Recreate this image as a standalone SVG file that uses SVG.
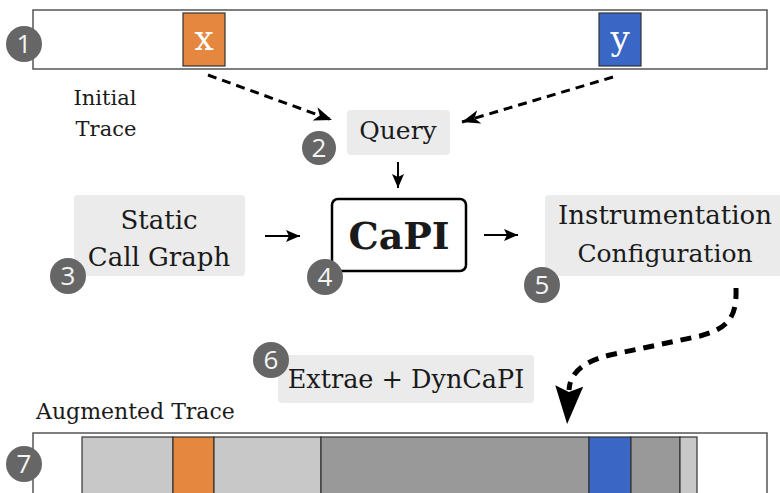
<svg xmlns="http://www.w3.org/2000/svg" width="780" height="493" viewBox="0 0 780 493">
<defs>
<style>
.trace{fill:#fff;stroke:#555;stroke-width:1.5}
.box{fill:#ebebeb}
.t{font-family:"DejaVu Serif","Liberation Serif",serif;fill:#1a1a1a}
.badge circle{fill:#666}
.badge text{font-family:"Open Sans","DejaVu Sans",sans-serif;font-size:26px;fill:#f4f4f4;text-anchor:middle}
.seg{stroke:#333;stroke-width:1.2}
.dash{fill:none;stroke:#000;stroke-width:3;stroke-dasharray:9 6}
.solid{fill:none;stroke:#000;stroke-width:2}
</style>
<marker id="head" viewBox="0 0 18 14" refX="18" refY="7" markerWidth="18" markerHeight="14" markerUnits="userSpaceOnUse" orient="auto">
<path d="M0,0 L18,7 L0,14 L5,7 z" fill="#000"/>
</marker>
<marker id="small" viewBox="0 0 14 12" refX="14" refY="6" markerWidth="14" markerHeight="12" markerUnits="userSpaceOnUse" orient="auto">
<path d="M0,0 L14,6 L0,12 L3,6 z" fill="#000"/>
</marker>
<marker id="big" viewBox="0 0 38 28" refX="4" refY="14" markerWidth="38" markerHeight="28" markerUnits="userSpaceOnUse" orient="auto">
<path d="M0,0 L38,14 L0,28 L6,14 z" fill="#000"/>
</marker>
</defs>

<g id="initial-trace">
<rect class="trace" x="33" y="10" width="734" height="59"/>
<rect x="183" y="13" width="42" height="53" fill="#e5873f" stroke="#333" stroke-width="1.2"/>
<text class="t" x="204" y="50" font-size="34" style="fill:#fff" text-anchor="middle">x</text>
<rect x="599" y="13" width="42" height="53" fill="#3a66c5" stroke="#333" stroke-width="1.2"/>
<text class="t" x="620" y="50" font-size="34" style="fill:#fff" text-anchor="middle">y</text>
<g class="badge"><circle cx="24" cy="44" r="18"/><text x="24" y="53">1</text></g>
<text class="t" x="105" y="105" font-size="21" text-anchor="middle">Initial</text>
<text class="t" x="106" y="136" font-size="21" text-anchor="middle">Trace</text>
</g>

<g id="query">
<rect class="box" x="347" y="110" width="103" height="45" rx="4"/>
<text class="t" x="398" y="139" font-size="25" text-anchor="middle">Query</text>
<g class="badge"><circle cx="319" cy="148" r="17"/><text x="319" y="157">2</text></g>
</g>

<g id="static-call-graph">
<rect class="box" x="74" y="195" width="171" height="81" rx="4"/>
<text class="t" x="159" y="229" font-size="26" text-anchor="middle">Static</text>
<text class="t" x="159" y="266" font-size="26" text-anchor="middle">Call Graph</text>
<g class="badge"><circle cx="68" cy="276" r="18"/><text x="68" y="285">3</text></g>
</g>

<g id="capi">
<rect x="332" y="199" width="134" height="72" rx="6" fill="#fff" stroke="#000" stroke-width="2.5"/>
<text class="t" x="399" y="249" font-size="38" font-weight="bold" text-anchor="middle">CaPI</text>
<g class="badge"><circle cx="325" cy="277" r="18"/><text x="325" y="286">4</text></g>
</g>

<g id="instrumentation-configuration">
<rect class="box" x="545" y="195" width="245" height="81" rx="4"/>
<text class="t" x="665" y="224" font-size="26" text-anchor="middle">Instrumentation</text>
<text class="t" x="665" y="262" font-size="25" text-anchor="middle">Configuration</text>
<g class="badge"><circle cx="542" cy="285" r="18"/><text x="542" y="294">5</text></g>
</g>

<g id="extrae-dyncapi">
<rect class="box" x="278" y="355" width="256" height="48" rx="4"/>
<text class="t" x="406" y="388" font-size="25.5" text-anchor="middle">Extrae + DynCaPI</text>
<g class="badge"><circle cx="271" cy="360" r="18"/><text x="271" y="369">6</text></g>
</g>

<g id="augmented-trace">
<text class="t" x="36" y="419" font-size="22">Augmented Trace</text>
<rect class="trace" x="33" y="433" width="734" height="70"/>
<rect class="seg" x="82" y="437" width="91" height="60" fill="#c8c8c8"/>
<rect class="seg" x="173" y="437" width="41" height="60" fill="#e5873f"/>
<rect class="seg" x="214" y="437" width="107" height="60" fill="#c8c8c8"/>
<rect class="seg" x="321" y="437" width="268" height="60" fill="#999"/>
<rect class="seg" x="589" y="437" width="42" height="60" fill="#3a66c5"/>
<rect class="seg" x="631" y="437" width="49" height="60" fill="#999"/>
<rect class="seg" x="680" y="437" width="17" height="60" fill="#c8c8c8"/>
<g class="badge"><circle cx="24" cy="464" r="18"/><text x="24" y="473">7</text></g>
</g>

<g id="connectors">
<path class="dash" d="M208,75 L332,120" marker-end="url(#head)"/>
<path class="dash" d="M613,77 L462,122" marker-end="url(#head)"/>
<path class="solid" d="M398,162 L398,188" marker-end="url(#small)"/>
<path class="solid" d="M265,236 L300,236" marker-end="url(#small)"/>
<path class="solid" d="M484,235 L518,235" marker-end="url(#small)"/>
<path d="M736,288 C737,318 728,328 700,336 L610,355 C585,361 570,372 569,390" fill="none" stroke="#000" stroke-width="5" stroke-dasharray="11 8" marker-end="url(#big)"/>
</g>
</svg>
